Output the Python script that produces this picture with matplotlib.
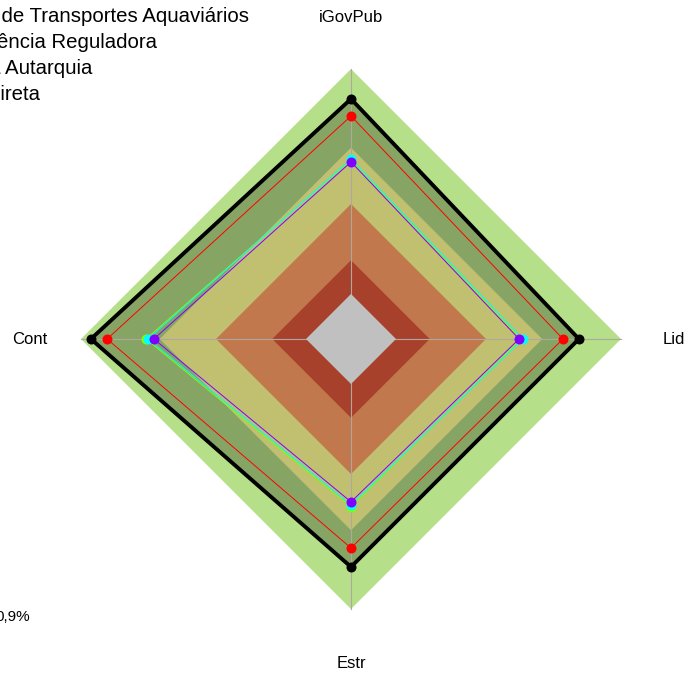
import matplotlib.pyplot as plt
import numpy as np

plt.rcParams['font.family'] = ['Liberation Sans', 'DejaVu Sans']

# eixos do radar (sentido horario a partir do topo)
eixos = ['iGovPub', 'Lid', 'Estr', 'Cont']

# valores de cada serie (0 a 1), na ordem dos eixos
serie_preta = [0.867, 0.813, 0.813, 0.956]
serie_antaq = [0.791, 0.742, 0.729, 0.884]
serie_reguladora = [0.596, 0.556, 0.547, 0.711]
serie_autarquia = [0.600, 0.564, 0.538, 0.702]
serie_direta = [0.587, 0.547, 0.524, 0.676]

# faixas de classificacao
faixas = [0.0, 0.15, 0.40, 0.65, 1.0]
cores_faixas = ['#A8412C', '#C0784C', '#C0C070', '#B5DF88']

legenda = ['Agência Nacional de Transportes Aquaviários', 'Média Agência Reguladora',
           'Média Autarquia', 'Média Administração direta']
nota = '0,9%'

W, H = 687, 675
cx, cy = 351, 339          # centro em pixels
esc = 225.0                # pixels por unidade
off = 0.2                  # raio do "buraco" central

ang = np.deg2rad([90, 0, 270, 180])


def xy(vals):
    r = off + np.asarray(vals, dtype=float)
    x = r * np.cos(ang)
    y = r * np.sin(ang)
    return np.append(x, x[0]), np.append(y, y[0])


fig = plt.figure(figsize=(W / 100, H / 100), dpi=100)
ax = fig.add_axes([0, 0, 1, 1])
ax.set_xlim(-cx / esc, (W - cx) / esc)
ax.set_ylim(-(H - cy) / esc, cy / esc)
ax.axis('off')

# faixa externa
x, y = xy([faixas[-1]] * 4)
ax.fill(x, y, color=cores_faixas[-1], lw=0, zorder=1)

# preenchimento da serie preta (escurece a faixa externa)
x, y = xy(serie_preta)
ax.fill(x, y, color='black', alpha=0.26, lw=0, zorder=2)

# faixas internas por cima
for i in range(len(cores_faixas) - 2, -1, -1):
    x, y = xy([faixas[i + 1]] * 4)
    ax.fill(x, y, color=cores_faixas[i], lw=0, zorder=3)

# linhas dos eixos
for a in ang:
    ax.plot([0, (off + 1) * np.cos(a)], [0, (off + 1) * np.sin(a)],
            color='#B0A8A0', lw=0.8, zorder=4)

# centro cinza
x, y = xy([faixas[0]] * 4)
ax.fill(x, y, color='#C0C0C0', lw=0, zorder=4.5)

series = [(serie_preta, 'black', 2.8),
          (serie_antaq, '#FF0000', 0.7),
          (serie_reguladora, '#80FF00', 0.7),
          (serie_autarquia, '#00FFFF', 0.7),
          (serie_direta, '#8000FF', 0.7)]
for vals, cor, lw in series:
    x, y = xy(vals)
    ax.plot(x, y, color=cor, lw=lw, zorder=5)
    ax.plot(x[:-1], y[:-1], 'o', color=cor, ms=7.2, mec='none', zorder=6)

# rotulos dos eixos
ax.text(0, (cy - 17) / esc, eixos[0], ha='center', va='center', fontsize=12)
ax.text((663 - cx) / esc, 0, eixos[1], ha='left', va='center', fontsize=12)
ax.text(0, -(663 - cy) / esc, eixos[2], ha='center', va='center', fontsize=12)
ax.text(-(cx - 47) / esc, 0, eixos[3], ha='right', va='center', fontsize=12)

# legenda (cortada na borda esquerda, como no original)
fins = [249, 157, 92, 40]
for i, txt in enumerate(legenda):
    fig.text(fins[i] / W, 1 - (17 + 26 * i) / H, txt, ha='right', va='center',
             fontsize=14.7)

fig.text(30 / W, 1 - 617 / H, nota, ha='right', va='center', fontsize=11)

fig.savefig('out.png', dpi=100)
